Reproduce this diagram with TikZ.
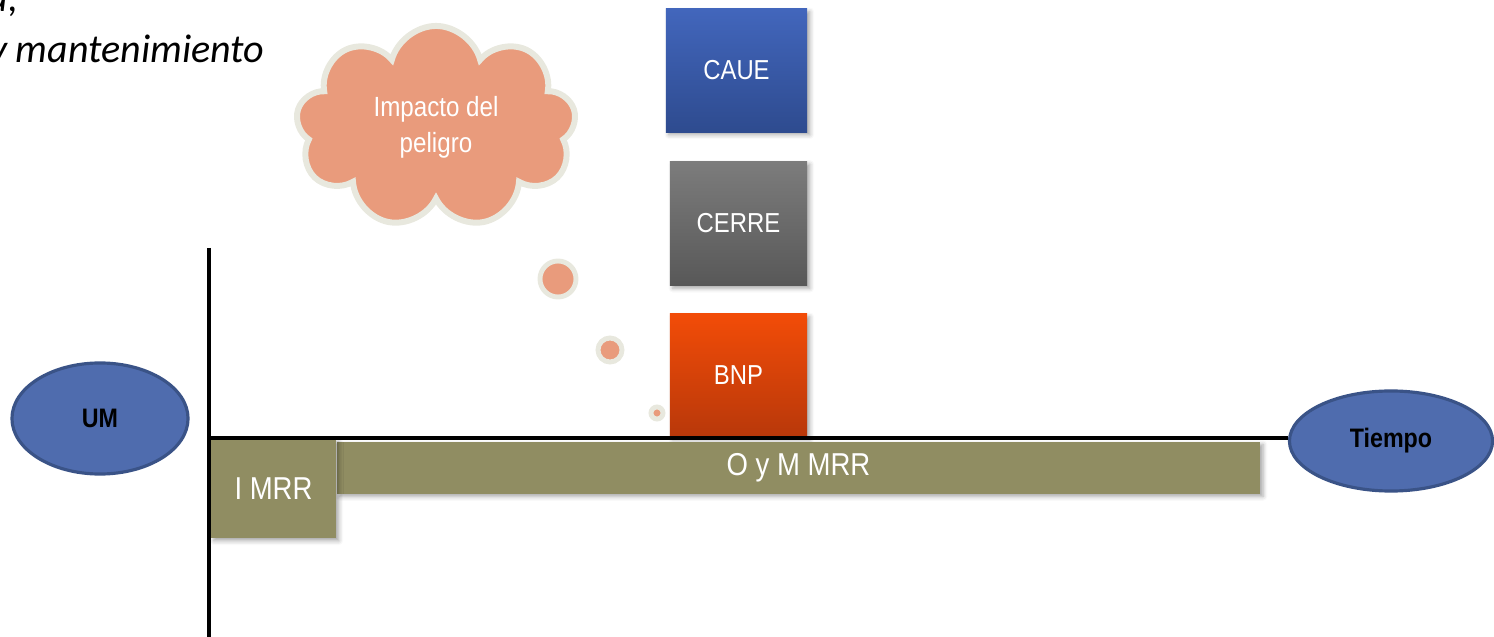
\documentclass[tikz,border=0pt]{standalone}
\usepackage{fontspec}
\setmainfont{Liberation Sans}
\newfontfamily\narrowsf[FakeStretch=0.87]{Liberation Sans}
\newfontfamily\notefont{Carlito}
\usetikzlibrary{positioning,shapes.geometric,shapes.symbols,shadows.blur}

\definecolor{tagfill}{RGB}{79,108,174}
\definecolor{tagedge}{RGB}{58,83,135}
\definecolor{phasefill}{RGB}{144,141,98}
\definecolor{caueTop}{RGB}{66,102,188}
\definecolor{caueBot}{RGB}{46,75,143}
\definecolor{cerreTop}{RGB}{124,124,124}
\definecolor{cerreBot}{RGB}{88,88,88}
\definecolor{bnpTop}{RGB}{242,76,8}
\definecolor{bnpBot}{RGB}{184,56,10}
\definecolor{cloudfill}{RGB}{233,155,124}
\definecolor{cloudedge}{RGB}{232,232,222}

\begin{document}
\begin{tikzpicture}[x=0.01cm, y=-0.01cm,
  box/.style = {rectangle, inner sep=0pt, text=white, font=\narrowsf\fontsize{7.8}{9}\selectfont,
    blur shadow={shadow xshift=0.8pt, shadow yshift=-0.8pt, shadow blur radius=1.2pt, shadow opacity=35}},
  phase/.style = {rectangle, inner sep=0pt, fill=phasefill, text=white, font=\narrowsf\fontsize{9}{11}\selectfont,
    blur shadow={shadow xshift=0.8pt, shadow yshift=-0.8pt, shadow blur radius=1.2pt, shadow opacity=35}},
  tag/.style = {ellipse, inner sep=0pt, fill=tagfill, draw=tagedge, line width=0.9pt, font=\narrowsf\bfseries\fontsize{7.6}{8}\selectfont},
  bubble/.style = {circle, inner sep=0pt, fill=cloudfill, draw=cloudedge, line width=1.4pt},
  note/.style = {anchor=base east, inner sep=0pt, font=\notefont\itshape\fontsize{11.4}{14}\selectfont},
  axis/.style = {line width=1.3pt}]
  \useasboundingbox (0,0) rectangle (1494,637);
  \clip (0,0) rectangle (1494,637);

  \node[note] (notea) at (19,12) {a,};
  \node[note] (noteb) at (265,63) {y mantenimiento};

  \node[cloud, cloud puffs=9, aspect=1.4, fill=cloudfill, draw=cloudedge, line width=1.7pt,
    minimum width=2.8cm, minimum height=2.02cm, align=center, text=white,
    font=\narrowsf\fontsize{7.9}{10.2}\selectfont] (hazard) at (436,127) {Impacto del\\peligro};
  \node[bubble, minimum size=0.36cm] (bubblea) at (558,279) {};
  \node[bubble, minimum size=0.24cm] (bubbleb) at (610,350) {};
  \node[bubble, minimum size=0.12cm] (bubblec) at (657,413) {};

  \node[box, minimum width=1.41cm, minimum height=1.23cm, top color=caueTop, bottom color=caueBot] (caue) at (736.5,70.5) {CAUE};
  \node[box, minimum width=1.37cm, minimum height=1.24cm, top color=cerreTop, bottom color=cerreBot,
    below=0.28cm of caue, xshift=0.02cm] (cerre) {CERRE};
  \node[box, minimum width=1.37cm, minimum height=1.23cm, top color=bnpTop, bottom color=bnpBot,
    below=0.27cm of cerre] (bnp) {BNP};

  \node[tag, minimum width=1.76cm, minimum height=1.11cm] (um) at (100,418.5) {UM};
  \node[tag, minimum width=2.03cm, minimum height=1.0cm] (tiempo) at (1391,441) {Tiempo};

  \node[phase, anchor=north west, minimum width=9.23cm, minimum height=0.52cm] (oym) at (336,441) {O y M MRR};
  \node[phase, minimum width=1.25cm, minimum height=0.99cm] (imrr) at (273.5,488.5) {I MRR};

  \coordinate (origin) at (209,438);
  \coordinate (ytop) at (209,248);
  \coordinate (ybot) at (209,640);
  \draw[axis] (ytop) -- (ybot);
  \draw[axis] (origin) -- (origin -| tiempo.west);
\end{tikzpicture}
\end{document}
